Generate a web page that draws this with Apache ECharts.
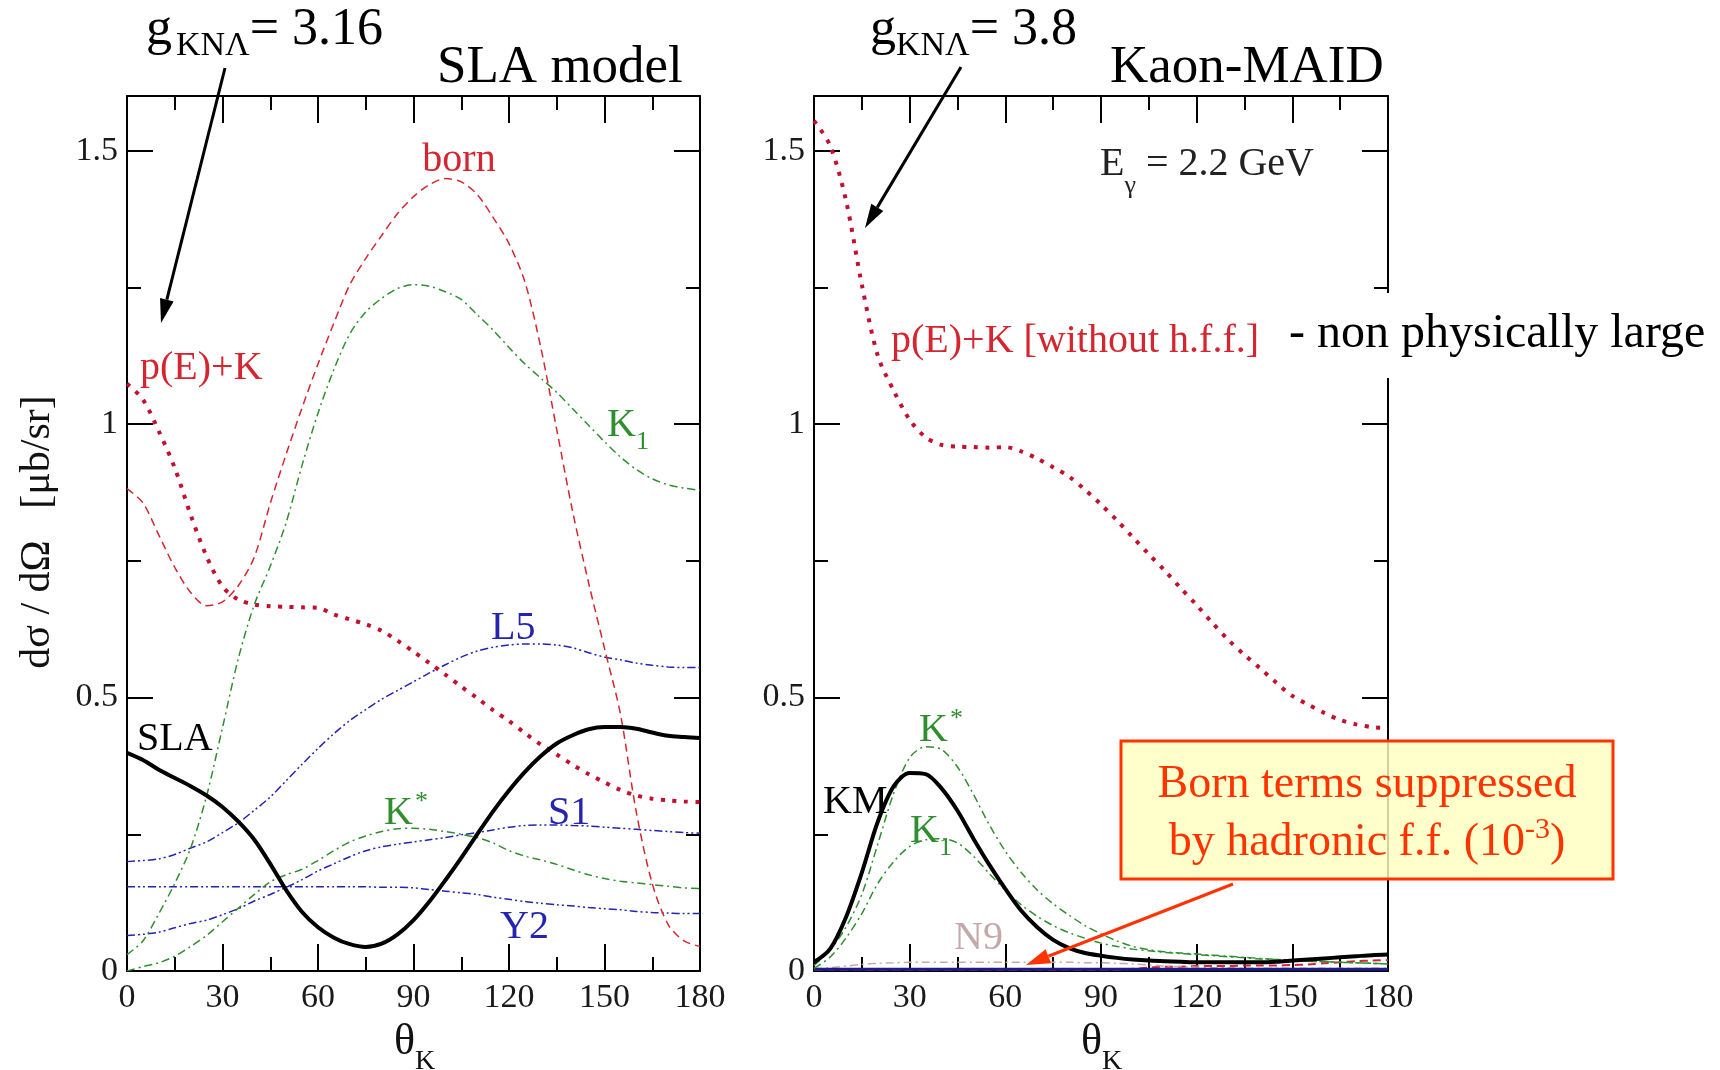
<!DOCTYPE html>
<html>
<head>
<meta charset="utf-8">
<title>K+ Lambda photoproduction: SLA vs Kaon-MAID</title>
<script src="https://cdn.jsdelivr.net/npm/echarts@6/dist/echarts.min.js"></script>
<style>
  html, body { margin: 0; padding: 0; background: #fff; }
  #main { width: 1720px; height: 1070px; }
</style>
</head>
<body>
<div id="main"></div>
<script>
// Kaon scattering angle (deg) at which every curve is sampled
const thetaDeg = [0, 5, 10, 15, 20, 25, 30, 35, 40, 45, 50, 55, 60, 65, 70, 75, 80, 85, 90,
  95, 100, 105, 110, 115, 120, 125, 130, 135, 140, 145, 150, 155, 160, 165, 170, 175, 180];

const xTicks = [0, 30, 60, 90, 120, 150, 180];
const yTickLabels = [0, 0.5, 1, 1.5];

// ---- SLA model, E_gamma = 2.2 GeV (dsigma/dOmega, mub/sr) ----
const slaBorn = [0.882, 0.856, 0.797, 0.738, 0.692, 0.668, 0.675, 0.705, 0.757, 0.855, 0.945, 1.030,
  1.110, 1.185, 1.255, 1.303, 1.345, 1.385, 1.416, 1.438, 1.449, 1.443, 1.420, 1.378, 1.330, 1.260,
  1.140, 0.990, 0.840, 0.710, 0.590, 0.470, 0.290, 0.160, 0.085, 0.055, 0.045];
const slaPEK = [1.074, 1.045, 0.987, 0.920, 0.834, 0.758, 0.703, 0.679, 0.670, 0.667, 0.666, 0.665,
  0.664, 0.652, 0.643, 0.634, 0.622, 0.604, 0.584, 0.563, 0.542, 0.520, 0.499, 0.477, 0.457, 0.435,
  0.414, 0.396, 0.377, 0.360, 0.345, 0.331, 0.321, 0.315, 0.312, 0.310, 0.309];
const slaK1 = [0.030, 0.055, 0.105, 0.160, 0.225, 0.320, 0.445, 0.572, 0.670, 0.740, 0.820, 0.925,
  1.020, 1.100, 1.165, 1.205, 1.230, 1.248, 1.255, 1.252, 1.242, 1.228, 1.200, 1.172, 1.140, 1.110,
  1.084, 1.058, 1.028, 0.998, 0.968, 0.940, 0.917, 0.900, 0.889, 0.883, 0.879];
const slaKstar = [0.000, 0.008, 0.015, 0.027, 0.045, 0.065, 0.090, 0.115, 0.140, 0.163, 0.176, 0.186,
  0.202, 0.220, 0.236, 0.247, 0.255, 0.260, 0.261, 0.259, 0.255, 0.250, 0.244, 0.234, 0.220, 0.210,
  0.203, 0.195, 0.185, 0.176, 0.169, 0.164, 0.161, 0.158, 0.155, 0.152, 0.151];
const slaL5 = [0.200, 0.202, 0.205, 0.213, 0.225, 0.236, 0.253, 0.271, 0.294, 0.318, 0.348, 0.378,
  0.407, 0.434, 0.458, 0.478, 0.497, 0.513, 0.529, 0.545, 0.560, 0.574, 0.585, 0.592, 0.596, 0.598,
  0.598, 0.596, 0.591, 0.582, 0.574, 0.569, 0.563, 0.559, 0.556, 0.555, 0.555];
const slaS1 = [0.065, 0.067, 0.071, 0.079, 0.087, 0.093, 0.103, 0.114, 0.128, 0.140, 0.153, 0.167,
  0.183, 0.196, 0.209, 0.220, 0.227, 0.232, 0.236, 0.240, 0.244, 0.249, 0.253, 0.258, 0.263, 0.266,
  0.267, 0.267, 0.266, 0.265, 0.263, 0.261, 0.259, 0.257, 0.255, 0.253, 0.252];
const slaY2 = [0.154, 0.154, 0.154, 0.154, 0.154, 0.154, 0.154, 0.154, 0.154, 0.154, 0.154, 0.154,
  0.154, 0.154, 0.154, 0.154, 0.153, 0.153, 0.152, 0.149, 0.146, 0.143, 0.140, 0.135, 0.131, 0.127,
  0.124, 0.121, 0.119, 0.116, 0.114, 0.112, 0.109, 0.107, 0.106, 0.105, 0.105];
const slaTotal = [0.399, 0.386, 0.368, 0.353, 0.338, 0.321, 0.300, 0.273, 0.240, 0.196, 0.148, 0.108,
  0.080, 0.061, 0.049, 0.044, 0.050, 0.067, 0.093, 0.127, 0.166, 0.207, 0.250, 0.292, 0.330, 0.364,
  0.393, 0.416, 0.431, 0.442, 0.446, 0.446, 0.443, 0.436, 0.430, 0.428, 0.426];

// ---- Kaon-MAID, E_gamma = 2.2 GeV ----
const kmPEK = [1.555, 1.510, 1.410, 1.255, 1.125, 1.061, 1.008, 0.976, 0.962, 0.959, 0.958, 0.957,
  0.958, 0.950, 0.937, 0.921, 0.904, 0.880, 0.853, 0.824, 0.793, 0.762, 0.732, 0.700, 0.669, 0.636,
  0.605, 0.578, 0.553, 0.527, 0.503, 0.487, 0.472, 0.459, 0.451, 0.446, 0.444];
const kmKstar = [0.010, 0.038, 0.080, 0.140, 0.232, 0.325, 0.390, 0.410, 0.405, 0.373, 0.323, 0.267,
  0.219, 0.180, 0.148, 0.123, 0.102, 0.083, 0.068, 0.055, 0.045, 0.039, 0.035, 0.033, 0.031, 0.029,
  0.027, 0.025, 0.023, 0.021, 0.020, 0.018, 0.017, 0.016, 0.015, 0.014, 0.013];
const kmK1 = [0.005, 0.025, 0.060, 0.105, 0.160, 0.200, 0.228, 0.240, 0.242, 0.234, 0.210, 0.178,
  0.148, 0.121, 0.100, 0.083, 0.070, 0.060, 0.051, 0.045, 0.040, 0.037, 0.034, 0.032, 0.030, 0.028,
  0.026, 0.024, 0.022, 0.021, 0.020, 0.018, 0.017, 0.016, 0.015, 0.014, 0.013];
const kmN9 = [0.004, 0.006, 0.009, 0.012, 0.014, 0.015, 0.016, 0.016, 0.016, 0.016, 0.016, 0.016,
  0.016, 0.016, 0.016, 0.016, 0.016, 0.015, 0.015, 0.014, 0.013, 0.011, 0.009, 0.008, 0.007, 0.006,
  0.006, 0.005, 0.005, 0.005, 0.005, 0.005, 0.005, 0.005, 0.005, 0.005, 0.005];
const kmBorn = [0.002, 0.002, 0.002, 0.002, 0.002, 0.002, 0.002, 0.002, 0.002, 0.002, 0.002, 0.002,
  0.002, 0.002, 0.002, 0.002, 0.002, 0.002, 0.002, 0.002, 0.004, 0.006, 0.008, 0.008, 0.009, 0.009,
  0.009, 0.010, 0.010, 0.010, 0.011, 0.012, 0.014, 0.016, 0.018, 0.019, 0.020];
const kmHyperon = [0.003, 0.003, 0.003, 0.003, 0.003, 0.003, 0.003, 0.003, 0.003, 0.003, 0.003, 0.003,
  0.003, 0.003, 0.003, 0.003, 0.003, 0.003, 0.003, 0.003, 0.003, 0.003, 0.003, 0.003, 0.003, 0.003,
  0.003, 0.003, 0.003, 0.003, 0.003, 0.003, 0.003, 0.003, 0.003, 0.003, 0.003];
const kmTotal = [0.016, 0.040, 0.098, 0.180, 0.273, 0.338, 0.362, 0.360, 0.334, 0.293, 0.242, 0.194,
  0.150, 0.110, 0.080, 0.057, 0.042, 0.033, 0.028, 0.024, 0.021, 0.019, 0.018, 0.017, 0.016, 0.016,
  0.016, 0.016, 0.016, 0.017, 0.019, 0.021, 0.023, 0.025, 0.027, 0.029, 0.030];

// ---------------------------------------------------------------------------
const FONT = '"Liberation Serif", "Times New Roman", serif';
const RED = '#d42630', DOT = '#c4102e', GREEN = '#2f8f2f', BLUE = '#2424b0', ORANGE = '#ff3300';

const DASH = [8, 5];
const DASH_DOT = [8, 4, 2, 4];
const DASH_DOT_DOT = [8, 3, 2, 3, 2, 3];
const DOTS = [4, 7.5];

function xAxis(grid, position, showLabels) {
  return {
    type: 'value', gridIndex: grid, position, min: 0, max: 180, interval: 30,
    axisLine: { show: true, onZero: false, lineStyle: { color: '#000', width: 2 } },
    axisTick: { show: true, inside: true, length: 27, lineStyle: { color: '#000', width: 2 } },
    minorTick: { show: true, splitNumber: 2, length: 14, lineStyle: { color: '#000', width: 2 } },
    splitLine: { show: false }, minorSplitLine: { show: false },
    axisLabel: {
      show: showLabels, margin: 10, fontSize: 34, fontFamily: FONT, color: '#1a1a1a',
      formatter: v => (xTicks.includes(v) ? String(v) : '')
    }
  };
}
// major axis: line, long ticks every 0.5 (+ labels); minor axis: short ticks every 0.25
function yAxis(grid, position, kind, showLabels) {
  const major = kind === 'major';
  return {
    type: 'value', gridIndex: grid, position, min: 0, max: 1.6,
    interval: major ? 0.5 : 0.25, offset: 0,
    axisLine: { show: major, onZero: false, lineStyle: { color: '#000', width: 2 } },
    axisTick: { show: true, inside: true, length: major ? 26 : 14, lineStyle: { color: '#000', width: 2 } },
    splitLine: { show: false },
    axisLabel: {
      show: major && showLabels, margin: 9, fontSize: 34, fontFamily: FONT, color: '#1a1a1a',
      formatter: v => {
        const hit = yTickLabels.find(t => Math.abs(t - v) < 1e-9);
        return hit === undefined ? '' : String(hit);
      }
    }
  };
}

function curve(name, values, panel, color, width, dash, z) {
  return {
    type: 'line', name,
    xAxisIndex: panel === 0 ? 0 : 2,
    yAxisIndex: panel === 0 ? 0 : 4,
    data: thetaDeg.map((t, i) => [t, values[i]]),
    symbol: 'none', showSymbol: false, smooth: 0.3, silent: true,
    clip: true, z: z || 2,
    lineStyle: { color, width, type: dash, cap: 'butt' }
  };
}

// ---- text helpers for annotations ----
const mctx = document.createElement('canvas').getContext('2d');
function textWidth(t, size) {
  mctx.font = size + 'px ' + FONT;
  return mctx.measureText(t).width;
}
function T(text, x, base, size, color, align) {
  return {
    type: 'text', z: 100,
    style: {
      text, x, y: base - 0.3 * size, fill: color,
      font: size + 'px ' + FONT,
      textAlign: align || 'left', verticalAlign: 'middle', textVerticalAlign: 'middle'
    }
  };
}
// lays out pieces (with sub/superscripts) one after another from x
function flow(pieces, x, base, color, align) {
  const total = pieces.reduce((s, p) => s + (p.gap || 0) + textWidth(p.t, p.size), 0);
  let cx = align === 'center' ? x - total / 2 : x;
  return pieces.map(p => {
    cx += p.gap || 0;
    const el = T(p.t, cx, base + (p.dy || 0), p.size, p.color || color);
    cx += textWidth(p.t, p.size);
    return el;
  });
}
function arrow(x1, y1, x2, y2, color, width, headLen, headW) {
  const a = Math.atan2(y2 - y1, x2 - x1);
  const bx = x2 - headLen * Math.cos(a), by = y2 - headLen * Math.sin(a);
  const nx = -Math.sin(a) * headW / 2, ny = Math.cos(a) * headW / 2;
  return [
    { type: 'line', z: 100, shape: { x1, y1, x2: bx, y2: by }, style: { stroke: color, lineWidth: width } },
    { type: 'polygon', z: 100, shape: { points: [[x2, y2], [bx + nx, by + ny], [bx - nx, by - ny]] },
      style: { fill: color } }
  ];
}

const graphics = [
  // plot titles and coupling constants
  ...flow([{ t: 'g', size: 52 }, { t: 'KNΛ', size: 34, dy: 10, gap: 4 }, { t: '= 3.16', size: 52 }], 146, 46, '#000'),
  ...flow([{ t: 'g', size: 52 }, { t: 'KNΛ', size: 34, dy: 10, gap: 0 }, { t: '= 3.8', size: 52 }], 870, 46, '#000'),
  T('SLA model', 437, 84, 53, '#000'),
  T('Kaon-MAID', 1110, 84, 53, '#000'),
  ...arrow(225, 68, 161, 323, '#000', 3, 24, 14),
  ...arrow(961, 67, 865, 228, '#000', 3, 24, 14),

  // axis titles
  {
    type: 'text', z: 100, x: 38, y: 532, rotation: Math.PI / 2,
    style: { text: 'dσ / dΩ   [μb/sr]', x: 0, y: 0, fill: '#111', font: '42px ' + FONT,
      textAlign: 'center', verticalAlign: 'middle', textVerticalAlign: 'middle' }
  },
  ...flow([{ t: 'θ', size: 44 }, { t: 'K', size: 28, dy: 14 }], 394, 1056, '#111'),
  ...flow([{ t: 'θ', size: 44 }, { t: 'K', size: 28, dy: 14 }], 1081, 1056, '#111'),

  // curve labels, SLA panel
  T('born', 459, 172, 40, RED, 'center'),
  T('p(E)+K', 140, 380, 40, RED),
  ...flow([{ t: 'K', size: 40 }, { t: '1', size: 26, dy: 13 }], 607, 437, GREEN),
  T('L5', 491, 640, 40, BLUE),
  T('SLA', 137, 751, 40, '#000'),
  ...flow([{ t: 'K', size: 40 }, { t: '*', size: 26, dy: -15, gap: 2 }], 384, 825, GREEN),
  T('S1', 548, 825, 40, BLUE),
  T('Y2', 500, 939, 40, BLUE),

  // curve labels, Kaon-MAID panel
  ...flow([{ t: 'E', size: 40 }, { t: 'γ', size: 26, dy: 18 }, { t: ' = 2.2 GeV', size: 40 }], 1100, 176, '#222'),
  T('p(E)+K [without h.f.f.]', 891, 353, 40, RED),
  { type: 'rect', z: 99, shape: { x: 1276, y: 293, width: 444, height: 85 }, style: { fill: '#fff' } },
  T('- non physically large', 1289, 349, 48, '#000'),
  T('KM', 823, 814, 40, '#000'),
  ...flow([{ t: 'K', size: 40 }, { t: '*', size: 26, dy: -15, gap: 2 }], 919, 742, GREEN),
  ...flow([{ t: 'K', size: 40 }, { t: '1', size: 26, dy: 13 }], 910, 843, GREEN),
  T('N9', 954, 950, 40, '#c4a9a9'),

  // note on the suppressed Born terms
  { type: 'rect', z: 99, shape: { x: 1121, y: 741, width: 492, height: 138 },
    style: { fill: 'rgba(255,255,192,0.82)', stroke: ORANGE, lineWidth: 3 } },
  T('Born terms suppressed', 1367, 799, 46, ORANGE, 'center'),
  ...flow([{ t: 'by hadronic f.f. (10', size: 46 }, { t: '-3', size: 30, dy: -18 }, { t: ')', size: 46 }],
    1367, 857, ORANGE, 'center'),
  ...arrow(1233, 884, 1026, 965, ORANGE, 3, 24, 15)
];

const option = {
  animation: false,
  backgroundColor: '#fff',
  grid: [
    { left: 127, top: 96, width: 573, height: 875, containLabel: false, outerBoundsMode: 'none' },
    { left: 814, top: 96, width: 574, height: 875, containLabel: false, outerBoundsMode: 'none' }
  ],
  xAxis: [
    xAxis(0, 'bottom', true), xAxis(0, 'top', false),
    xAxis(1, 'bottom', true), xAxis(1, 'top', false)
  ],
  yAxis: [
    yAxis(0, 'left', 'major', true), yAxis(0, 'left', 'minor', false),
    yAxis(0, 'right', 'major', false), yAxis(0, 'right', 'minor', false),
    yAxis(1, 'left', 'major', true), yAxis(1, 'left', 'minor', false),
    yAxis(1, 'right', 'major', false), yAxis(1, 'right', 'minor', false)
  ],
  series: [
    curve('Y2', slaY2, 0, BLUE, 1.5, DASH_DOT_DOT),
    curve('S1', slaS1, 0, BLUE, 1.5, DASH_DOT_DOT),
    curve('L5', slaL5, 0, BLUE, 1.5, DASH_DOT_DOT),
    curve('K*', slaKstar, 0, GREEN, 1.5, DASH_DOT),
    curve('K1', slaK1, 0, GREEN, 1.5, DASH_DOT),
    curve('born', slaBorn, 0, RED, 1.5, DASH),
    curve('p(E)+K', slaPEK, 0, DOT, 4, DOTS, 3),
    curve('SLA', slaTotal, 0, '#000', 4, 'solid', 4),

    curve('born (KM)', kmBorn, 1, RED, 2, DASH),
    curve('N9', kmN9, 1, '#c8a8a8', 1.5, DASH_DOT),
    curve('hyperon (KM)', kmHyperon, 1, '#1c1c8c', 3, 'solid'),
    curve('K1 (KM)', kmK1, 1, GREEN, 1.5, DASH_DOT),
    curve('K* (KM)', kmKstar, 1, GREEN, 1.5, DASH_DOT),
    curve('p(E)+K (KM)', kmPEK, 1, DOT, 4, DOTS, 3),
    curve('KM', kmTotal, 1, '#000', 4, 'solid', 4)
  ],
  graphic: { elements: graphics }
};

const chart = echarts.init(document.getElementById('main'), null, { renderer: 'canvas', width: 1720, height: 1070 });
chart.setOption(option);
</script>
</body>
</html>
